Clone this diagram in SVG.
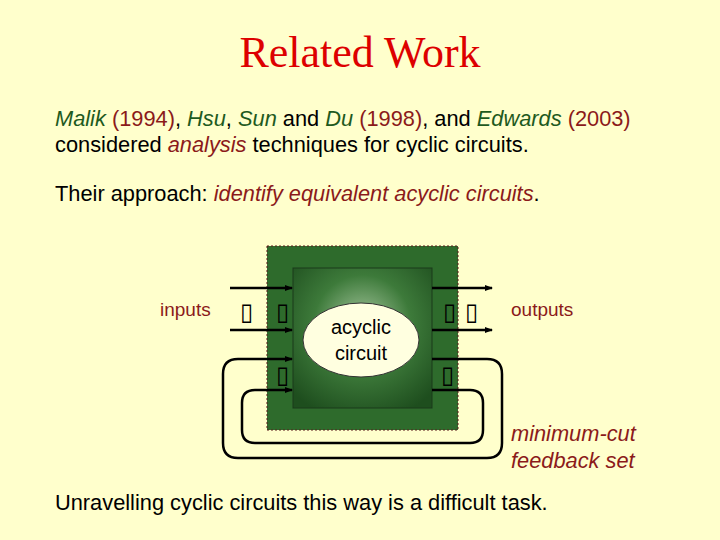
<svg xmlns="http://www.w3.org/2000/svg" width="720" height="540" viewBox="0 0 720 540">
<defs>
<marker id="ah" markerWidth="8" markerHeight="8" refX="7" refY="4" orient="auto" markerUnits="userSpaceOnUse"><path d="M0,1 L8,4 L0,7 Z" fill="#000"/></marker>
<radialGradient id="g1" cx="0.5" cy="0.4" r="0.7"><stop offset="0" stop-color="#a8c8a0"/><stop offset="0.5" stop-color="#3d7a3a"/><stop offset="1" stop-color="#1e4e1e"/></radialGradient>
</defs>
<style>
text{font-family:"Liberation Sans",Arial,sans-serif;font-size:21.8px;fill:#000}
.g{fill:#1e5a1e;font-style:italic}
.r{fill:#8b1a1a}
.ri{fill:#8b1a1a;font-style:italic}
.lab{font-size:19px;fill:#8b1a1a}
.w{stroke:#000;stroke-width:2.5;fill:none}
.d{font-size:24px}
</style>
<rect width="720" height="540" fill="#ffffcc"/>
<text x="360" y="67" text-anchor="middle" style="font-family:'Liberation Serif',serif;font-size:44px;fill:#dd0000">Related Work</text>
<text x="55" y="126"><tspan class="g">Malik</tspan> <tspan class="r">(1994)</tspan>, <tspan class="g">Hsu</tspan>, <tspan class="g">Sun</tspan> and <tspan class="g">Du</tspan> <tspan class="r">(1998)</tspan>, and <tspan class="g">Edwards</tspan> <tspan class="r">(2003)</tspan></text>
<text x="55" y="152">considered <tspan class="ri">analysis</tspan> techniques for cyclic circuits.</text>
<text x="55" y="201">Their approach: <tspan class="ri">identify equivalent acyclic circuits</tspan>.</text>
<g id="outer"><rect x="267" y="246" width="191" height="184" fill="#2e6b2c" stroke="#5a1a1a" stroke-dasharray="2,2"/></g>
<g id="inner"><rect x="293" y="268" width="139" height="140" fill="url(#g1)" stroke="#1a3a1a"/></g>
<g id="ellipse"><ellipse cx="361" cy="340" rx="58" ry="37" fill="#ffffe0" stroke="#333"/>
<text x="361" y="334" text-anchor="middle" style="font-size:20px">acyclic</text><text x="361" y="360" text-anchor="middle" style="font-size:20px">circuit</text></g>
<g id="connectors">
<line class="w" x1="230" y1="288" x2="292" y2="288" marker-end="url(#ah)"/>
<line class="w" x1="230" y1="330" x2="292" y2="330" marker-end="url(#ah)"/>
<line class="w" x1="432" y1="288" x2="492" y2="288" marker-end="url(#ah)"/>
<line class="w" x1="432" y1="330" x2="492" y2="330" marker-end="url(#ah)"/>
<path class="w" d="M432,359 H487 Q502,359 502,374 V443 Q502,458 487,458 H238 Q223,458 223,443 V374 Q223,359 238,359 H292" marker-end="url(#ah)"/>
<path class="w" d="M432,390 H470 Q483,390 483,403 V430 Q483,443 470,443 H255 Q242,443 242,430 V403 Q242,390 255,390 H292" marker-end="url(#ah)"/>
</g>
<g id="dots">
<text class="d" x="246" y="320" text-anchor="middle">▯</text><text class="d" x="282" y="320" text-anchor="middle">▯</text>
<text class="d" x="449" y="320" text-anchor="middle">▯</text><text class="d" x="471" y="320" text-anchor="middle">▯</text>
<text class="d" x="282" y="383" text-anchor="middle">▯</text><text class="d" x="447" y="383" text-anchor="middle">▯</text>
</g>
<text class="lab" x="160" y="316">inputs</text>
<text class="lab" x="511" y="316">outputs</text>
<text class="ri" x="511" y="441">minimum-cut</text>
<text class="ri" x="511" y="468">feedback set</text>
<text x="55" y="510">Unravelling cyclic circuits this way is a difficult task.</text>
</svg>
